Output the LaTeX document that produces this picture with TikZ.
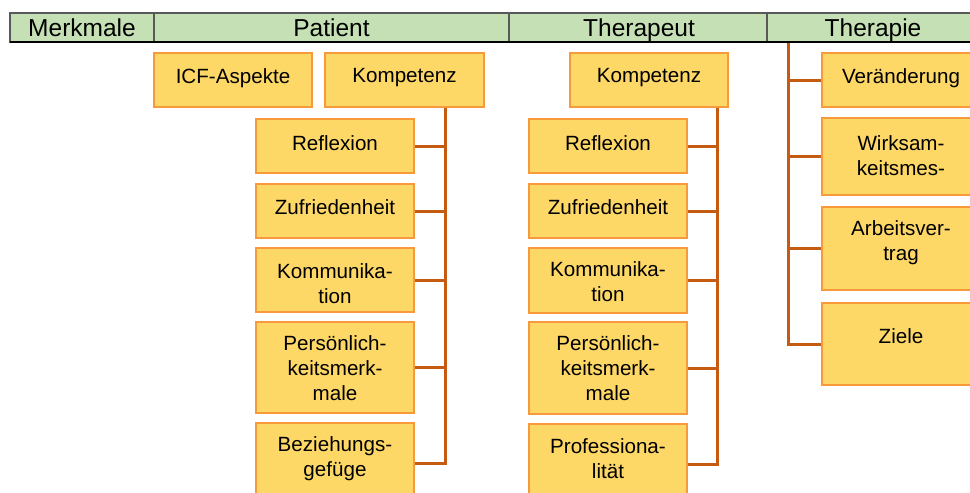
\documentclass[tikz,border=0pt]{standalone}
\usepackage{fontspec}
\setmainfont{Liberation Sans}
\definecolor{hdrfill}{HTML}{C5E0B4}
\definecolor{hdrline}{HTML}{595959}
\definecolor{boxfill}{HTML}{FDD867}
\definecolor{boxline}{HTML}{F89A3C}
\definecolor{connline}{HTML}{C55A11}
\tikzset{
  hdrcell/.style={draw=hdrline, fill=hdrfill, line width=1.3pt},
  hdrtext/.style={font=\fontsize{24.5}{28}\selectfont, inner sep=0pt, anchor=base},
  itembox/.style={draw=boxline, fill=boxfill, line width=2pt, anchor=north west,
    inner sep=0pt, minimum width=158pt},
  itemtext/.style={font=\fontsize{20.6}{25}\selectfont, align=center, inner sep=0pt, anchor=north},
  conn/.style={draw=connline, line width=3pt}
}
\begin{document}
\begin{tikzpicture}[x=1pt,y=-1pt]
\useasboundingbox (0,0) rectangle (970,493);
\clip (0,0) rectangle (970,493);

% header bar
\draw[hdrcell] (10,13) rectangle (154,42);
\draw[hdrcell] (154,13) rectangle (509,42);
\draw[hdrcell] (509,13) rectangle (767,42);
\draw[hdrcell] (767,13) rectangle (985,42);
\draw[black, line width=1.3pt] (10,42) -- (985,42);
\node[hdrtext] (hm) at (82,36) {Merkmale};
\node[hdrtext] (hp) at (331.5,36) {Patient};
\node[hdrtext] (ht) at (639,36) {Therapeut};
\node[hdrtext] (hth) at (873,36) {Therapie};

% Patient
\node[itembox, minimum height=54pt] (picf) at (153,52) {};
\node[itembox, minimum height=54pt, minimum width=159pt] (pk) at (324,52) {};
\node[itembox, minimum height=54pt] (p1) at (255,118) {};
\node[itembox, minimum height=54pt] (p2) at (255,183) {};
\node[itembox, minimum height=64pt] (p3) at (255,247) {};
\node[itembox, minimum height=91pt] (p4) at (255,321) {};
\node[itembox, minimum height=80pt] (p5) at (255,422) {};
\coordinate (ptrunk) at (445,106);

\node[itemtext] at ([yshift=-16pt]picf.north) {ICF-Aspekte};
\node[itemtext] at ([yshift=-16pt]pk.north) {Kompetenz};
\node[itemtext] at ([yshift=-17pt]p1.north) {Reflexion};
\node[itemtext] at ([yshift=-16pt]p2.north) {Zufriedenheit};
\node[itemtext] at ([yshift=-16pt]p3.north) {Kommunika-\\tion};
\node[itemtext] at ([yshift=-14pt]p4.north) {Persönlich-\\keitsmerk-\\male};
\node[itemtext] at ([yshift=-14pt]p5.north) {Beziehungs-\\gefüge};

\draw[conn] (pk.south -| ptrunk) |- (p5.east);
\foreach \n in {p1,p2,p3,p4}
  \draw[conn] (\n.east) -- (\n.east -| ptrunk);

% Therapeut
\node[itembox, minimum height=54pt] (tk) at (569,52) {};
\node[itembox, minimum height=54pt] (t1) at (528,118) {};
\node[itembox, minimum height=54pt] (t2) at (528,183) {};
\node[itembox, minimum height=65pt] (t3) at (528,247) {};
\node[itembox, minimum height=92pt] (t4) at (528,321) {};
\node[itembox, minimum height=80pt] (t5) at (528,423) {};
\coordinate (ttrunk) at (717,106);

\node[itemtext] at ([yshift=-16pt]tk.north) {Kompetenz};
\node[itemtext] at ([yshift=-17pt]t1.north) {Reflexion};
\node[itemtext] at ([yshift=-16pt]t2.north) {Zufriedenheit};
\node[itemtext] at ([yshift=-14pt]t3.north) {Kommunika-\\tion};
\node[itemtext] at ([yshift=-14pt]t4.north) {Persönlich-\\keitsmerk-\\male};
\node[itemtext] at ([yshift=-15pt]t5.north) {Professiona-\\lität};

\draw[conn] (tk.south -| ttrunk) |- (t5.east);
\foreach \n in {t1,t2,t3,t4}
  \draw[conn] (\n.east) -- (\n.east -| ttrunk);

% Therapie
\node[itembox, minimum height=54pt] (v1) at (821,52) {};
\node[itembox, minimum height=77pt] (v2) at (821,117) {};
\node[itembox, minimum height=83pt] (v3) at (821,206) {};
\node[itembox, minimum height=82pt] (v4) at (821,302) {};
\coordinate (vtrunk) at (788,43);

\node[itemtext] at ([yshift=-16pt]v1.north) {Veränderung};
\node[itemtext] at ([yshift=-18pt]v2.north) {Wirksam-\\keitsmes-};
\node[itemtext] at ([yshift=-14pt]v3.north) {Arbeitsver-\\trag};
\node[itemtext] at ([yshift=-26pt]v4.north) {Ziele};

\draw[conn] (vtrunk) |- (v4.west);
\foreach \n in {v1,v2,v3}
  \draw[conn] (\n.west) -- (\n.west -| vtrunk);
\end{tikzpicture}
\end{document}
